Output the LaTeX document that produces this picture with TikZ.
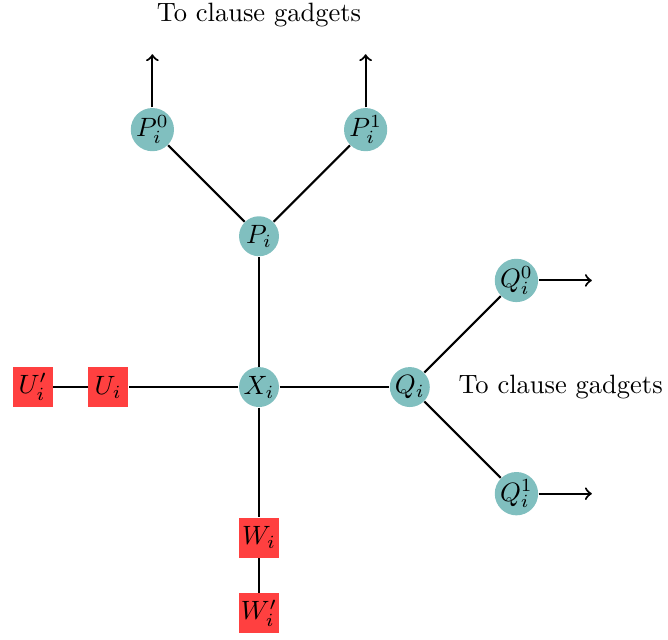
\documentclass[tikz,border=0pt]{standalone}
\usepackage{amsmath,amssymb,tikz}

\begin{document}
\begin{tikzpicture}[var/.style={circle,fill=teal!50,inner sep=0pt,minimum size=0.53cm},
                    aux/.style={rectangle,fill=red!75,inner sep=0pt,minimum size=0.53cm}]
                \useasboundingbox (-3.435,-3.342) rectangle (5.424,5.133);

                \node[var] (xi) at (0,0) {$X_i$};
                \node[var] (pi) at (0,2) {$P_i$};
                \node[var] (pi0) at (-1.414,3.414) {$P_i^0$};
                \node[var] (pi1) at (1.414,3.414) {$P_i^1$};
                \node[var] (qi) at (2,0) {$Q_i$};
                \node[var] (qi0) at (3.414,1.414) {$Q_i^0$};
                \node[var] (qi1) at (3.414,-1.414) {$Q_i^1$};
                \node[aux] (ui) at (-2,0) {$U_i$};
                \node[aux] (uip) at (-3,0) {$U_i'$};
                \node[aux] (wi) at (0,-2) {$W_i$};
                \node[aux] (wip) at (0,-3) {$W_i'$};

                \coordinate (pi0out) at (-1.414,4.414);
                \coordinate (pi1out) at (1.414,4.414);
                \coordinate (qi0out) at (4.414,1.414);
                \coordinate (qi1out) at (4.414,-1.414);

                \node (topclause) at (0,4.93) {To clause gadgets};
                \node (rightclause) at (4,0) {To clause gadgets};

                \draw [thick] (xi) -- (pi);
                \draw [thick] (pi) -- (pi0);
                \draw [thick] (pi) -- (pi1);
                \draw [thick] (xi) -- (qi);
                \draw [thick] (qi) -- (qi0);
                \draw [thick] (qi) -- (qi1);
                \draw [thick] (xi) -- (ui);
                \draw [thick] (ui) -- (uip);
                \draw [thick] (xi) -- (wi);
                \draw [thick] (wi) -- (wip);

                \draw [thick, ->] (pi0) -- (pi0out);
                \draw [thick, ->] (pi1) -- (pi1out);
                \draw [thick, ->] (qi0) -- (qi0out);
                \draw [thick, ->] (qi1) -- (qi1out);
            \end{tikzpicture}
\end{document}
